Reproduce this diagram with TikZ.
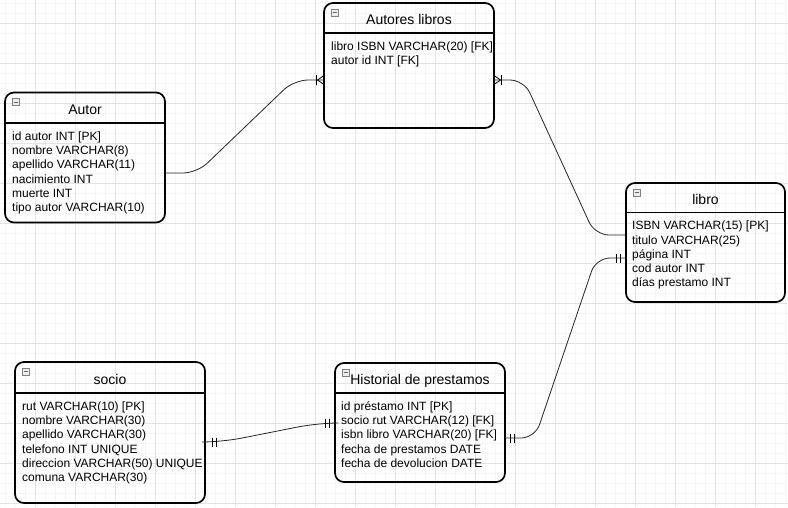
\documentclass[tikz,border=0pt]{standalone}
\usepackage{fontspec}
\setmainfont{Liberation Sans}
\usetikzlibrary{calc}
\tikzstyle{entity} = [draw=black, line width=1.7pt, rounded corners=9pt, outer sep=0pt, inner sep=0pt]
\tikzstyle{headline} = [draw=black, line width=1.7pt]
\tikzstyle{title} = [anchor=base, inner sep=0pt, font=\fontsize{14}{16}\selectfont]
\tikzstyle{fields} = [anchor=north west, align=left, inner sep=0pt, font=\fontsize{12}{14.2}\selectfont]
\tikzstyle{rel} = [line width=0.8pt, rounded corners=14pt, color=black!85]
\tikzstyle{minorgrid} = [color=gray!7, line width=0.6pt]
\tikzstyle{majorgrid} = [color=gray!22, line width=0.6pt]
\tikzset{
  collapse/.pic={\draw[draw=gray, fill=gray!15, line width=0.5pt] (7,6) rectangle (14,13);
    \draw[gray!80!black, line width=0.6pt] (8.5,9.5) -- (12.5,9.5);},
  onlyone/.pic={\draw[line width=0.8pt] (-9.5,-4.5) -- (-9.5,4.5) (-5.5,-4.5) -- (-5.5,4.5);},
  onemany/.pic={\draw[line width=0.8pt] (0,-4.5) -- (-6.5,0) -- (0,4.5) (-7.5,-5) -- (-7.5,5);}
}

\begin{document}
\begin{tikzpicture}[x=1pt, y=-1pt]
\useasboundingbox (0,0) rectangle (788,507);
\fill[white] (0,0) rectangle (788,507);
% grid
\foreach \gx in {5,15,...,785} \draw[minorgrid] (\gx,0) -- (\gx,507);
\foreach \gy in {3.3,13.3,...,503.3} \draw[minorgrid] (0,\gy) -- (788,\gy);
\foreach \gx in {35,75,...,755} \draw[majorgrid] (\gx,0) -- (\gx,507);
\foreach \gy in {23.3,63.3,...,503.3} \draw[majorgrid] (0,\gy) -- (788,\gy);

% tables
\node[entity, minimum width=160, minimum height=130] (autor) at (85,157.5) {};
\draw[headline] ($(autor.north west)+(0,30.5)$) -- ($(autor.north east)+(0,30.5)$);
\pic at (autor.north west) {collapse};
\node[title] (autorname) at ($(autor.north)+(0,22)$) {Autor};
\node[fields] (autorfields) at ($(autor.north west)+(7,39)$)
  {id autor INT [PK]\\nombre VARCHAR(8)\\apellido VARCHAR(11)\\nacimiento INT\\muerte INT\\tipo autor VARCHAR(10)};

\node[entity, minimum width=170, minimum height=125] (autoreslibros) at (409,65.5) {};
\draw[headline] ($(autoreslibros.north west)+(0,30)$) -- ($(autoreslibros.north east)+(0,30)$);
\pic at (autoreslibros.north west) {collapse};
\node[title] (autoreslibrosname) at ($(autoreslibros.north)+(0,21.5)$) {Autores libros};
\node[fields] (autoreslibrosfields) at ($(autoreslibros.north west)+(7,38.5)$)
  {libro ISBN VARCHAR(20) [FK]\\autor id INT [FK]};

\node[entity, minimum width=159, minimum height=119] (libro) at (705.5,242.5) {};
\draw[headline] ($(libro.north west)+(0,29.5)$) -- ($(libro.north east)+(0,29.5)$);
\pic at (libro.north west) {collapse};
\node[title] (libroname) at ($(libro.north)+(0,21)$) {libro};
\node[fields] (librofields) at ($(libro.north west)+(6,38)$)
  {ISBN VARCHAR(15) [PK]\\titulo VARCHAR(25)\\página INT\\cod autor INT\\días prestamo INT};

\node[entity, minimum width=190, minimum height=141] (socio) at (110,432.5) {};
\draw[headline] ($(socio.north west)+(0,31)$) -- ($(socio.north east)+(0,31)$);
\pic at (socio.north west) {collapse};
\node[title] (socioname) at ($(socio.north)+(0,22.5)$) {socio};
\node[fields] (sociofields) at ($(socio.north west)+(7,39.5)$)
  {rut VARCHAR(10) [PK]\\nombre VARCHAR(30)\\apellido VARCHAR(30)\\telefono INT UNIQUE\\direccion VARCHAR(50) UNIQUE\\comuna VARCHAR(30)};

\node[entity, minimum width=170, minimum height=119] (historial) at (420,422.5) {};
\draw[headline] ($(historial.north west)+(0,30)$) -- ($(historial.north east)+(0,30)$);
\pic at (historial.north west) {collapse};
\node[title] (historialname) at ($(historial.north)+(0,21.5)$) {Historial de prestamos};
\node[fields] (historialfields) at ($(historial.north west)+(6,38.5)$)
  {id préstamo INT [PK]\\socio rut VARCHAR(12) [FK]\\isbn libro VARCHAR(20) [FK]\\fecha de prestamos DATE\\fecha de devolucion DATE};

% relations
\draw[rel] ($(autor.east)+(0,15.5)$) -- (197,173) -- (294,80) -- ($(autoreslibros.west)+(0,14.5)$);
\path ($(autoreslibros.west)+(0,14.5)$) pic {onemany};
\draw[rel] ($(autoreslibros.east)+(0,14.5)$) -- (524,80) -- (595,235) -- ($(libro.west)+(0,-7.5)$);
\path ($(autoreslibros.east)+(0,14.5)$) pic[rotate=180] {onemany};
\draw[rel] ($(libro.west)+(0,15.5)$) -- (596,258) -- (535,438) -- ($(historial.east)+(0,15.5)$);
\path ($(libro.west)+(0,15.5)$) pic {onlyone};
\path ($(historial.east)+(0,15.5)$) pic[rotate=180] {onlyone};
\draw[rel, rounded corners=20pt] ($(socio.east)+(3,9.5)$) -- (222,442) -- (318,423) -- ($(historial.west)+(0,0.5)$);
\path ($(socio.east)+(2,9.5)$) pic[rotate=180] {onlyone};
\path ($(historial.west)+(0,0.5)$) pic {onlyone};
\end{tikzpicture}
\end{document}
